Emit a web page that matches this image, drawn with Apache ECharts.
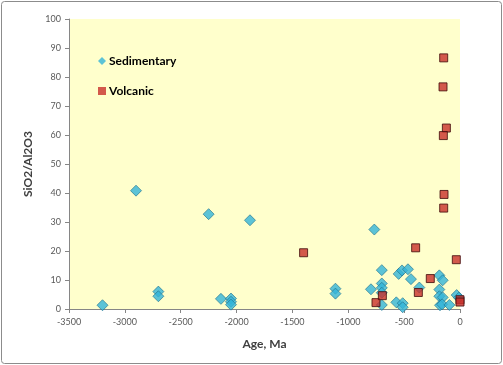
<!DOCTYPE html>
<html><head><meta charset="utf-8">
<script src="https://cdn.jsdelivr.net/npm/echarts@6/dist/echarts.min.js"></script>
<style>html,body{margin:0;padding:0;background:#fff}#c{width:503px;height:365px}</style>
</head><body><div id="c"></div>
<script>
const sedimentaryAge = [-3200,-2900,-2700,-2700,-2250,-2140,-2050,-2050,-2050,-1880,-1115,-1115,-797,-767,-700,-700,-700,-700,-700,-570,-549,-519,-513,-513,-466,-439,-364,-185,-155,-185,-185,-155,-179,-160,-95,-30,-10];
const sedimentaryRatio = [1.3,40.8,6.0,4.4,32.7,3.5,3.6,2.5,1.5,30.6,7.0,5.3,6.8,27.4,13.4,8.8,7.3,5.6,1.4,2.3,12.1,13.3,2.0,0.6,13.7,10.3,7.4,11.6,9.9,6.7,4.4,4.0,1.3,1.6,1.4,4.8,3.9];
const volcanicAge = [-1400,-752,-695,-397,-373,-266,-146,-152,-122,-149,-143,-146,-33,0,0];
const volcanicRatio = [19.4,2.2,4.6,21.1,5.7,10.5,86.6,76.6,62.4,59.8,39.5,34.8,17.0,3.2,2.4];
const xTicks = {min:-3500,max:0,interval:500};
const yTicks = {min:0,max:100,interval:10};

const pair = (xs, ys) => xs.map((x,i)=>[x, ys[i]]);
const chart = echarts.init(document.getElementById('c'), null, {renderer:'canvas'});
const tickFont = {color:'#595959', fontSize:9, fontFamily:'Lato', formatter:v=>String(v)};
chart.setOption({
  animation:false,
  backgroundColor:'#ffffff',
  graphic:[{type:'rect', shape:{x:1.5,y:1.5,width:500,height:362,r:3}, style:{fill:'none', stroke:'#8c8c8c', lineWidth:1}, z:-1}],
  grid:{left:69, right:43, top:19, bottom:56, show:true, backgroundColor:'#FFFFCC', borderColor:'transparent'},
  legend:{
    orient:'vertical', left:93, top:50, itemGap:18, itemWidth:8, itemHeight:8,
    textStyle:{fontFamily:'Lato', fontWeight:'bold', fontSize:12, color:'#000', padding:[0,0,0,-2]},
    data:[{name:'Sedimentary', icon:'diamond', itemStyle:{borderWidth:0}},{name:'Volcanic', icon:'rect', itemStyle:{borderWidth:0}}]
  },
  xAxis:{
    type:'value', min:xTicks.min, max:xTicks.max, interval:xTicks.interval,
    name:'Age, Ma', nameLocation:'middle', nameGap:29,
    nameTextStyle:{fontFamily:'Lato', fontWeight:'bold', fontSize:12, color:'#404040'},
    axisLine:{show:true, onZero:false, lineStyle:{color:'#868686'}},
    axisTick:{show:true, inside:false, length:4, lineStyle:{color:'#868686'}},
    axisLabel:Object.assign({margin:9}, tickFont),
    splitLine:{show:false}
  },
  yAxis:{
    type:'value', min:yTicks.min, max:yTicks.max, interval:yTicks.interval,
    name:'SiO2/Al2O3', nameLocation:'middle', nameGap:29, nameRotate:90,
    nameTextStyle:{fontFamily:'Lato', fontWeight:'bold', fontSize:12, color:'#404040'},
    axisLine:{show:true, onZero:false, lineStyle:{color:'#868686'}},
    axisTick:{show:true, inside:false, length:4, lineStyle:{color:'#868686'}},
    axisLabel:Object.assign({margin:8}, tickFont),
    splitLine:{show:false}
  },
  series:[
    {name:'Sedimentary', type:'scatter', symbol:'diamond', symbolSize:11,
     itemStyle:{color:'#33B4D8', borderColor:'#1F6F8A', borderWidth:0.8},
     data:pair(sedimentaryAge, sedimentaryRatio)},
    {name:'Volcanic', type:'scatter', symbol:'rect', symbolSize:8,
     itemStyle:{color:'#C8302A', borderColor:'#3F0A0A', borderWidth:1},
     data:pair(volcanicAge, volcanicRatio)}
  ]
});
</script></body></html>
